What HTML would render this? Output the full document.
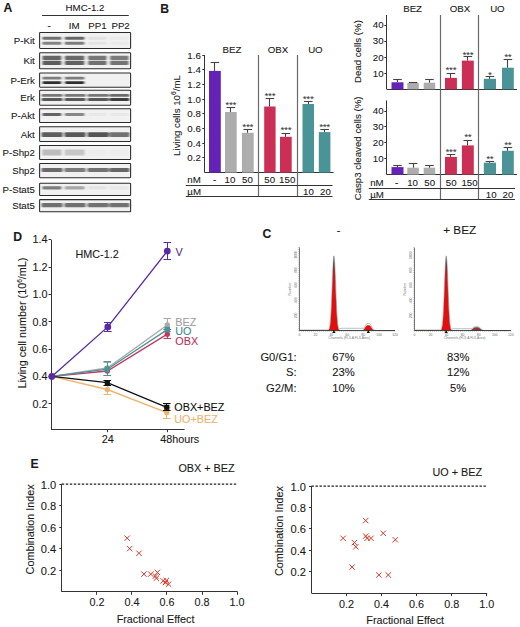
<!DOCTYPE html>
<html><head><meta charset="utf-8"><style>
html,body{margin:0;padding:0;background:#fff;}
body{width:520px;height:627px;overflow:hidden;}
svg{display:block;font-family:"Liberation Sans", sans-serif;}

</style></head><body>
<svg width="520" height="627" viewBox="0 0 520 627">
<defs><linearGradient id="pk" x1="0" y1="0" x2="0" y2="1"><stop offset="0" stop-color="#777"/><stop offset="0.1" stop-color="#553030"/><stop offset="0.2" stop-color="#c01515"/><stop offset="0.3" stop-color="#e01010"/><stop offset="1" stop-color="#e40c0c"/></linearGradient><filter id="blot" x="-5%" y="-20%" width="110%" height="140%"><feGaussianBlur stdDeviation="0.9 0.75"/></filter></defs>
<rect width="520" height="627" fill="#fff"/>
<text x="3.5" y="12.3" font-size="12.2" text-anchor="start" fill="#1a1a1a" stroke="#1a1a1a" stroke-width="0.1" font-weight="bold" >A</text>
<text x="85.0" y="10.9" font-size="9.7" text-anchor="middle" fill="#1a1a1a" stroke="#1a1a1a" stroke-width="0.1" font-weight="normal" >HMC-1.2</text>
<line x1="42.00" y1="15.50" x2="128.80" y2="15.50" stroke="#333" stroke-width="1" />
<text x="49.0" y="29.0" font-size="9.7" text-anchor="middle" fill="#1a1a1a" stroke="#1a1a1a" stroke-width="0.1" font-weight="normal" >-</text>
<text x="74.2" y="29.0" font-size="9.7" text-anchor="middle" fill="#1a1a1a" stroke="#1a1a1a" stroke-width="0.1" font-weight="normal" >IM</text>
<text x="97.5" y="29.0" font-size="9.7" text-anchor="middle" fill="#1a1a1a" stroke="#1a1a1a" stroke-width="0.1" font-weight="normal" >PP1</text>
<text x="120.6" y="29.0" font-size="9.7" text-anchor="middle" fill="#1a1a1a" stroke="#1a1a1a" stroke-width="0.1" font-weight="normal" >PP2</text>
<g filter="url(#blot)">
<rect x="39.60" y="32.40" width="91.00" height="16.00" fill="#f1f1f1" />
<rect x="42.20" y="36.70" width="19.40" height="3.00" fill="#1e1e1e" opacity="0.62" rx="1"/>
<rect x="64.60" y="36.70" width="20.00" height="3.00" fill="#1e1e1e" opacity="0.66" rx="1"/>
<rect x="87.80" y="36.70" width="19.00" height="3.00" fill="#1e1e1e" opacity="0.07" rx="1"/>
<rect x="109.80" y="36.70" width="19.00" height="3.00" fill="#1e1e1e" opacity="0.03" rx="1"/>
<rect x="42.20" y="41.70" width="19.40" height="3.00" fill="#1e1e1e" opacity="0.52" rx="1"/>
<rect x="64.60" y="41.70" width="20.00" height="3.00" fill="#1e1e1e" opacity="0.56" rx="1"/>
<rect x="87.80" y="41.70" width="19.00" height="3.00" fill="#1e1e1e" opacity="0.06" rx="1"/>
<rect x="109.80" y="41.70" width="19.00" height="3.00" fill="#1e1e1e" opacity="0.03" rx="1"/>
<rect x="39.60" y="52.80" width="91.00" height="16.00" fill="#f1f1f1" />
<rect x="42.20" y="55.80" width="19.40" height="4.20" fill="#1e1e1e" opacity="0.66" rx="1"/>
<rect x="64.60" y="55.80" width="20.00" height="4.20" fill="#1e1e1e" opacity="0.64" rx="1"/>
<rect x="87.80" y="55.80" width="19.00" height="4.20" fill="#1e1e1e" opacity="0.58" rx="1"/>
<rect x="109.80" y="55.80" width="19.00" height="4.20" fill="#1e1e1e" opacity="0.56" rx="1"/>
<rect x="42.20" y="60.80" width="19.40" height="4.20" fill="#1e1e1e" opacity="0.7" rx="1"/>
<rect x="64.60" y="60.80" width="20.00" height="4.20" fill="#1e1e1e" opacity="0.68" rx="1"/>
<rect x="87.80" y="60.80" width="19.00" height="4.20" fill="#1e1e1e" opacity="0.62" rx="1"/>
<rect x="109.80" y="60.80" width="19.00" height="4.20" fill="#1e1e1e" opacity="0.6" rx="1"/>
<rect x="39.60" y="73.00" width="91.00" height="14.20" fill="#f1f1f1" />
<rect x="42.20" y="76.80" width="19.40" height="2.80" fill="#1e1e1e" opacity="0.55" rx="1"/>
<rect x="64.60" y="76.80" width="20.00" height="2.80" fill="#1e1e1e" opacity="0.55" rx="1"/>
<rect x="42.20" y="81.30" width="19.40" height="2.60" fill="#1e1e1e" opacity="0.92" rx="1"/>
<rect x="64.60" y="81.30" width="20.00" height="2.60" fill="#1e1e1e" opacity="0.92" rx="1"/>
<rect x="39.60" y="90.20" width="91.00" height="15.00" fill="#f1f1f1" />
<rect x="41.30" y="93.90" width="21.50" height="2.80" fill="#1e1e1e" opacity="0.58" rx="1"/>
<rect x="64.30" y="93.90" width="21.50" height="2.80" fill="#1e1e1e" opacity="0.58" rx="1"/>
<rect x="87.30" y="93.90" width="21.50" height="2.80" fill="#1e1e1e" opacity="0.58" rx="1"/>
<rect x="109.30" y="93.90" width="20.30" height="2.80" fill="#1e1e1e" opacity="0.64" rx="1"/>
<rect x="41.30" y="98.10" width="21.50" height="3.00" fill="#1e1e1e" opacity="0.72" rx="1"/>
<rect x="64.30" y="98.10" width="21.50" height="3.00" fill="#1e1e1e" opacity="0.72" rx="1"/>
<rect x="87.30" y="98.10" width="21.50" height="3.00" fill="#1e1e1e" opacity="0.72" rx="1"/>
<rect x="109.30" y="98.10" width="20.30" height="3.00" fill="#1e1e1e" opacity="0.86" rx="1"/>
<rect x="39.60" y="108.70" width="91.00" height="13.80" fill="#f1f1f1" />
<rect x="42.20" y="113.10" width="19.40" height="3.00" fill="#1e1e1e" opacity="0.68" rx="1"/>
<rect x="64.60" y="113.10" width="20.00" height="3.00" fill="#1e1e1e" opacity="0.5" rx="1"/>
<rect x="87.80" y="113.10" width="19.00" height="3.00" fill="#1e1e1e" opacity="0.04" rx="1"/>
<rect x="109.80" y="113.10" width="19.00" height="3.00" fill="#1e1e1e" opacity="0.04" rx="1"/>
<rect x="39.60" y="126.80" width="91.00" height="14.60" fill="#f1f1f1" />
<rect x="41.30" y="132.30" width="21.50" height="4.80" fill="#1e1e1e" opacity="0.7" rx="1"/>
<rect x="64.30" y="132.30" width="21.50" height="4.80" fill="#1e1e1e" opacity="0.72" rx="1"/>
<rect x="87.30" y="132.30" width="21.50" height="4.80" fill="#1e1e1e" opacity="0.74" rx="1"/>
<rect x="109.30" y="132.30" width="20.30" height="4.80" fill="#1e1e1e" opacity="0.6" rx="1"/>
<rect x="39.60" y="145.50" width="91.00" height="14.00" fill="#f1f1f1" />
<rect x="42.20" y="149.50" width="19.40" height="6.00" fill="#1e1e1e" opacity="0.25" rx="1"/>
<rect x="64.60" y="149.50" width="20.00" height="6.00" fill="#1e1e1e" opacity="0.2" rx="1"/>
<rect x="87.80" y="149.50" width="19.00" height="6.00" fill="#1e1e1e" opacity="0.02" rx="1"/>
<rect x="109.80" y="149.50" width="19.00" height="6.00" fill="#1e1e1e" opacity="0.02" rx="1"/>
<rect x="39.60" y="163.40" width="91.00" height="14.30" fill="#f1f1f1" />
<rect x="41.30" y="168.10" width="21.50" height="3.80" fill="#1e1e1e" opacity="0.64" rx="1"/>
<rect x="64.30" y="168.10" width="21.50" height="3.80" fill="#1e1e1e" opacity="0.56" rx="1"/>
<rect x="87.30" y="168.10" width="21.50" height="3.80" fill="#1e1e1e" opacity="0.6" rx="1"/>
<rect x="109.30" y="168.10" width="20.30" height="3.80" fill="#1e1e1e" opacity="0.66" rx="1"/>
<rect x="39.60" y="183.20" width="91.00" height="12.40" fill="#f1f1f1" />
<rect x="42.20" y="186.20" width="19.40" height="3.40" fill="#1e1e1e" opacity="0.55" rx="1"/>
<rect x="64.60" y="186.20" width="20.00" height="3.40" fill="#1e1e1e" opacity="0.35" rx="1"/>
<rect x="87.80" y="186.20" width="19.00" height="3.40" fill="#1e1e1e" opacity="0.06" rx="1"/>
<rect x="109.80" y="186.20" width="19.00" height="3.40" fill="#1e1e1e" opacity="0.04" rx="1"/>
<rect x="39.60" y="199.60" width="91.00" height="12.20" fill="#f1f1f1" />
<rect x="41.30" y="203.10" width="21.50" height="4.20" fill="#1e1e1e" opacity="0.62" rx="1"/>
<rect x="64.30" y="203.10" width="21.50" height="4.20" fill="#1e1e1e" opacity="0.62" rx="1"/>
<rect x="87.30" y="203.10" width="21.50" height="4.20" fill="#1e1e1e" opacity="0.6" rx="1"/>
<rect x="109.30" y="203.10" width="20.30" height="4.20" fill="#1e1e1e" opacity="0.6" rx="1"/>
</g>
<rect x="39.60" y="32.40" width="91.00" height="16.00" fill="none" stroke="#2a2a2a" stroke-width="1.05" rx="0.6"/>
<text x="34.8" y="43.9" font-size="9.7" text-anchor="end" fill="#1a1a1a" stroke="#1a1a1a" stroke-width="0.1" font-weight="normal" >P-Kit</text>
<rect x="39.60" y="52.80" width="91.00" height="16.00" fill="none" stroke="#2a2a2a" stroke-width="1.05" rx="0.6"/>
<text x="34.8" y="64.3" font-size="9.7" text-anchor="end" fill="#1a1a1a" stroke="#1a1a1a" stroke-width="0.1" font-weight="normal" >Kit</text>
<rect x="39.60" y="73.00" width="91.00" height="14.20" fill="none" stroke="#2a2a2a" stroke-width="1.05" rx="0.6"/>
<text x="34.8" y="83.6" font-size="9.7" text-anchor="end" fill="#1a1a1a" stroke="#1a1a1a" stroke-width="0.1" font-weight="normal" >P-Erk</text>
<rect x="39.60" y="90.20" width="91.00" height="15.00" fill="none" stroke="#2a2a2a" stroke-width="1.05" rx="0.6"/>
<text x="34.8" y="101.2" font-size="9.7" text-anchor="end" fill="#1a1a1a" stroke="#1a1a1a" stroke-width="0.1" font-weight="normal" >Erk</text>
<rect x="39.60" y="108.70" width="91.00" height="13.80" fill="none" stroke="#2a2a2a" stroke-width="1.05" rx="0.6"/>
<text x="34.8" y="119.1" font-size="9.7" text-anchor="end" fill="#1a1a1a" stroke="#1a1a1a" stroke-width="0.1" font-weight="normal" >P-Akt</text>
<rect x="39.60" y="126.80" width="91.00" height="14.60" fill="none" stroke="#2a2a2a" stroke-width="1.05" rx="0.6"/>
<text x="34.8" y="137.6" font-size="9.7" text-anchor="end" fill="#1a1a1a" stroke="#1a1a1a" stroke-width="0.1" font-weight="normal" >Akt</text>
<rect x="39.60" y="145.50" width="91.00" height="14.00" fill="none" stroke="#2a2a2a" stroke-width="1.05" rx="0.6"/>
<text x="34.8" y="156.0" font-size="9.7" text-anchor="end" fill="#1a1a1a" stroke="#1a1a1a" stroke-width="0.1" font-weight="normal" >P-Shp2</text>
<rect x="39.60" y="163.40" width="91.00" height="14.30" fill="none" stroke="#2a2a2a" stroke-width="1.05" rx="0.6"/>
<text x="34.8" y="174.1" font-size="9.7" text-anchor="end" fill="#1a1a1a" stroke="#1a1a1a" stroke-width="0.1" font-weight="normal" >Shp2</text>
<rect x="39.60" y="183.20" width="91.00" height="12.40" fill="none" stroke="#2a2a2a" stroke-width="1.05" rx="0.6"/>
<text x="34.8" y="192.9" font-size="9.7" text-anchor="end" fill="#1a1a1a" stroke="#1a1a1a" stroke-width="0.1" font-weight="normal" >P-Stat5</text>
<rect x="39.60" y="199.60" width="91.00" height="12.20" fill="none" stroke="#2a2a2a" stroke-width="1.05" rx="0.6"/>
<text x="34.8" y="209.2" font-size="9.7" text-anchor="end" fill="#1a1a1a" stroke="#1a1a1a" stroke-width="0.1" font-weight="normal" >Stat5</text>
<text x="160.3" y="13.1" font-size="12.2" text-anchor="start" fill="#1a1a1a" stroke="#1a1a1a" stroke-width="0.1" font-weight="bold" >B</text>
<line x1="204.50" y1="55.00" x2="204.50" y2="172.60" stroke="#333" stroke-width="1" />
<line x1="204.60" y1="172.50" x2="333.60" y2="172.50" stroke="#333" stroke-width="1" />
<line x1="202.30" y1="157.50" x2="204.60" y2="157.50" stroke="#333" stroke-width="1" />
<text x="200.8" y="161.2" font-size="9.7" text-anchor="end" fill="#1a1a1a" stroke="#1a1a1a" stroke-width="0.1" font-weight="normal" >0.2</text>
<line x1="202.30" y1="143.50" x2="204.60" y2="143.50" stroke="#333" stroke-width="1" />
<text x="200.8" y="146.6" font-size="9.7" text-anchor="end" fill="#1a1a1a" stroke="#1a1a1a" stroke-width="0.1" font-weight="normal" >0.4</text>
<line x1="202.30" y1="128.50" x2="204.60" y2="128.50" stroke="#333" stroke-width="1" />
<text x="200.8" y="131.9" font-size="9.7" text-anchor="end" fill="#1a1a1a" stroke="#1a1a1a" stroke-width="0.1" font-weight="normal" >0.6</text>
<line x1="202.30" y1="113.50" x2="204.60" y2="113.50" stroke="#333" stroke-width="1" />
<text x="200.8" y="117.3" font-size="9.7" text-anchor="end" fill="#1a1a1a" stroke="#1a1a1a" stroke-width="0.1" font-weight="normal" >0.8</text>
<line x1="202.30" y1="99.50" x2="204.60" y2="99.50" stroke="#333" stroke-width="1" />
<text x="200.8" y="102.6" font-size="9.7" text-anchor="end" fill="#1a1a1a" stroke="#1a1a1a" stroke-width="0.1" font-weight="normal" >1.0</text>
<line x1="202.30" y1="84.50" x2="204.60" y2="84.50" stroke="#333" stroke-width="1" />
<text x="200.8" y="87.9" font-size="9.7" text-anchor="end" fill="#1a1a1a" stroke="#1a1a1a" stroke-width="0.1" font-weight="normal" >1.2</text>
<line x1="202.30" y1="69.50" x2="204.60" y2="69.50" stroke="#333" stroke-width="1" />
<text x="200.8" y="73.3" font-size="9.7" text-anchor="end" fill="#1a1a1a" stroke="#1a1a1a" stroke-width="0.1" font-weight="normal" >1.4</text>
<line x1="202.30" y1="55.50" x2="204.60" y2="55.50" stroke="#333" stroke-width="1" />
<text x="200.8" y="58.6" font-size="9.7" text-anchor="end" fill="#1a1a1a" stroke="#1a1a1a" stroke-width="0.1" font-weight="normal" >1.6</text>
<text transform="translate(179.6,115.5) rotate(-90)" font-size="9.7" text-anchor="middle" fill="#1c1c1c" stroke="#1c1c1c" stroke-width="0.1">Living cells 10<tspan font-size="6.8" dy="-3.5">6</tspan><tspan dy="3.5">/mL</tspan></text>
<rect x="209.00" y="70.90" width="11.80" height="101.70" fill="#6423b4" />
<line x1="214.50" y1="62.80" x2="214.50" y2="70.90" stroke="#444" stroke-width="1.1" />
<line x1="210.60" y1="62.50" x2="219.20" y2="62.50" stroke="#444" stroke-width="1.1" />
<rect x="225.00" y="112.00" width="11.70" height="60.60" fill="#adadad" />
<line x1="230.50" y1="107.20" x2="230.50" y2="112.00" stroke="#444" stroke-width="1.1" />
<line x1="226.55" y1="107.50" x2="235.15" y2="107.50" stroke="#444" stroke-width="1.1" />
<text x="231.0" y="108.2" font-size="9" text-anchor="middle" fill="#3a3a3a" stroke="#3a3a3a" stroke-width="0.1" font-weight="normal" letter-spacing="0.1">***</text>
<rect x="241.90" y="132.80" width="11.80" height="39.80" fill="#adadad" />
<line x1="247.50" y1="129.20" x2="247.50" y2="132.80" stroke="#444" stroke-width="1.1" />
<line x1="243.50" y1="129.50" x2="252.10" y2="129.50" stroke="#444" stroke-width="1.1" />
<text x="248.0" y="129.6" font-size="9" text-anchor="middle" fill="#3a3a3a" stroke="#3a3a3a" stroke-width="0.1" font-weight="normal" letter-spacing="0.1">***</text>
<rect x="264.20" y="106.50" width="11.40" height="66.10" fill="#cc2f55" />
<line x1="269.50" y1="98.70" x2="269.50" y2="106.50" stroke="#444" stroke-width="1.1" />
<line x1="265.60" y1="98.50" x2="274.20" y2="98.50" stroke="#444" stroke-width="1.1" />
<text x="270.1" y="99.1" font-size="9" text-anchor="middle" fill="#3a3a3a" stroke="#3a3a3a" stroke-width="0.1" font-weight="normal" letter-spacing="0.1">***</text>
<rect x="280.00" y="136.80" width="11.70" height="35.80" fill="#cc2f55" />
<line x1="285.50" y1="133.00" x2="285.50" y2="136.80" stroke="#444" stroke-width="1.1" />
<line x1="281.55" y1="133.50" x2="290.15" y2="133.50" stroke="#444" stroke-width="1.1" />
<text x="286.1" y="132.9" font-size="9" text-anchor="middle" fill="#3a3a3a" stroke="#3a3a3a" stroke-width="0.1" font-weight="normal" letter-spacing="0.1">***</text>
<rect x="302.50" y="104.00" width="11.50" height="68.60" fill="#4a9497" />
<line x1="308.50" y1="101.90" x2="308.50" y2="104.00" stroke="#444" stroke-width="1.1" />
<line x1="303.95" y1="101.50" x2="312.55" y2="101.50" stroke="#444" stroke-width="1.1" />
<text x="308.4" y="102.3" font-size="9" text-anchor="middle" fill="#3a3a3a" stroke="#3a3a3a" stroke-width="0.1" font-weight="normal" letter-spacing="0.1">***</text>
<rect x="318.80" y="132.10" width="11.60" height="40.50" fill="#4a9497" />
<line x1="324.50" y1="129.40" x2="324.50" y2="132.10" stroke="#444" stroke-width="1.1" />
<line x1="320.30" y1="129.50" x2="328.90" y2="129.50" stroke="#444" stroke-width="1.1" />
<text x="324.8" y="129.6" font-size="9" text-anchor="middle" fill="#3a3a3a" stroke="#3a3a3a" stroke-width="0.1" font-weight="normal" letter-spacing="0.1">***</text>
<line x1="258.50" y1="55.00" x2="258.50" y2="196.80" stroke="#6a6a6a" stroke-width="1.2" />
<line x1="297.50" y1="55.00" x2="297.50" y2="196.80" stroke="#6a6a6a" stroke-width="1.2" />
<text x="232.0" y="52.9" font-size="9.7" text-anchor="middle" fill="#1a1a1a" stroke="#1a1a1a" stroke-width="0.1" font-weight="normal" >BEZ</text>
<text x="277.9" y="52.9" font-size="9.7" text-anchor="middle" fill="#1a1a1a" stroke="#1a1a1a" stroke-width="0.1" font-weight="normal" >OBX</text>
<text x="315.4" y="52.9" font-size="9.7" text-anchor="middle" fill="#1a1a1a" stroke="#1a1a1a" stroke-width="0.1" font-weight="normal" >UO</text>
<text x="187.3" y="183.4" font-size="9.7" text-anchor="start" fill="#1a1a1a" stroke="#1a1a1a" stroke-width="0.1" font-weight="normal" >nM</text>
<text x="214.6" y="183.4" font-size="9.7" text-anchor="middle" fill="#1a1a1a" stroke="#1a1a1a" stroke-width="0.1" font-weight="normal" >-</text>
<text x="230.0" y="183.4" font-size="9.7" text-anchor="middle" fill="#1a1a1a" stroke="#1a1a1a" stroke-width="0.1" font-weight="normal" >10</text>
<text x="247.5" y="183.4" font-size="9.7" text-anchor="middle" fill="#1a1a1a" stroke="#1a1a1a" stroke-width="0.1" font-weight="normal" >50</text>
<text x="269.7" y="183.4" font-size="9.7" text-anchor="middle" fill="#1a1a1a" stroke="#1a1a1a" stroke-width="0.1" font-weight="normal" >50</text>
<text x="287.2" y="183.4" font-size="9.7" text-anchor="middle" fill="#1a1a1a" stroke="#1a1a1a" stroke-width="0.1" font-weight="normal" >150</text>
<line x1="185.80" y1="185.50" x2="332.50" y2="185.50" stroke="#333" stroke-width="1" />
<text x="187.3" y="195.3" font-size="9.7" text-anchor="start" fill="#1a1a1a" stroke="#1a1a1a" stroke-width="0.1" font-weight="normal" >&#181;M</text>
<text x="308.5" y="195.3" font-size="9.7" text-anchor="middle" fill="#1a1a1a" stroke="#1a1a1a" stroke-width="0.1" font-weight="normal" >10</text>
<text x="325.4" y="195.3" font-size="9.7" text-anchor="middle" fill="#1a1a1a" stroke="#1a1a1a" stroke-width="0.1" font-weight="normal" >20</text>
<line x1="185.80" y1="196.50" x2="332.50" y2="196.50" stroke="#333" stroke-width="1" />
<line x1="386.50" y1="15.00" x2="386.50" y2="89.30" stroke="#333" stroke-width="1" />
<line x1="386.80" y1="89.50" x2="517.00" y2="89.50" stroke="#333" stroke-width="1" />
<line x1="384.30" y1="73.50" x2="386.80" y2="73.50" stroke="#333" stroke-width="1" />
<text x="383.6" y="76.5" font-size="9.7" text-anchor="end" fill="#1a1a1a" stroke="#1a1a1a" stroke-width="0.1" font-weight="normal" >10</text>
<line x1="384.30" y1="57.50" x2="386.80" y2="57.50" stroke="#333" stroke-width="1" />
<text x="383.6" y="60.5" font-size="9.7" text-anchor="end" fill="#1a1a1a" stroke="#1a1a1a" stroke-width="0.1" font-weight="normal" >20</text>
<line x1="384.30" y1="41.50" x2="386.80" y2="41.50" stroke="#333" stroke-width="1" />
<text x="383.6" y="44.4" font-size="9.7" text-anchor="end" fill="#1a1a1a" stroke="#1a1a1a" stroke-width="0.1" font-weight="normal" >30</text>
<line x1="384.30" y1="25.50" x2="386.80" y2="25.50" stroke="#333" stroke-width="1" />
<text x="383.6" y="28.4" font-size="9.7" text-anchor="end" fill="#1a1a1a" stroke="#1a1a1a" stroke-width="0.1" font-weight="normal" >40</text>
<line x1="386.50" y1="100.40" x2="386.50" y2="174.60" stroke="#333" stroke-width="1" />
<line x1="386.80" y1="174.50" x2="517.00" y2="174.50" stroke="#333" stroke-width="1" />
<line x1="384.30" y1="158.50" x2="386.80" y2="158.50" stroke="#333" stroke-width="1" />
<text x="383.6" y="162.0" font-size="9.7" text-anchor="end" fill="#1a1a1a" stroke="#1a1a1a" stroke-width="0.1" font-weight="normal" >10</text>
<line x1="384.30" y1="142.50" x2="386.80" y2="142.50" stroke="#333" stroke-width="1" />
<text x="383.6" y="146.1" font-size="9.7" text-anchor="end" fill="#1a1a1a" stroke="#1a1a1a" stroke-width="0.1" font-weight="normal" >20</text>
<line x1="384.30" y1="126.50" x2="386.80" y2="126.50" stroke="#333" stroke-width="1" />
<text x="383.6" y="130.2" font-size="9.7" text-anchor="end" fill="#1a1a1a" stroke="#1a1a1a" stroke-width="0.1" font-weight="normal" >30</text>
<line x1="384.30" y1="111.50" x2="386.80" y2="111.50" stroke="#333" stroke-width="1" />
<text x="383.6" y="114.3" font-size="9.7" text-anchor="end" fill="#1a1a1a" stroke="#1a1a1a" stroke-width="0.1" font-weight="normal" >40</text>
<rect x="391.50" y="82.30" width="12.00" height="7.00" fill="#6423b4" />
<line x1="397.50" y1="79.20" x2="397.50" y2="82.30" stroke="#444" stroke-width="1.1" />
<line x1="393.20" y1="79.50" x2="401.80" y2="79.50" stroke="#444" stroke-width="1.1" />
<rect x="407.30" y="83.00" width="11.50" height="6.30" fill="#adadad" />
<line x1="413.50" y1="82.30" x2="413.50" y2="83.00" stroke="#444" stroke-width="1.1" />
<line x1="408.75" y1="82.50" x2="417.35" y2="82.50" stroke="#444" stroke-width="1.1" />
<rect x="423.70" y="82.70" width="11.50" height="6.60" fill="#adadad" />
<line x1="429.50" y1="79.40" x2="429.50" y2="82.70" stroke="#444" stroke-width="1.1" />
<line x1="425.15" y1="79.50" x2="433.75" y2="79.50" stroke="#444" stroke-width="1.1" />
<rect x="445.00" y="77.90" width="11.90" height="11.40" fill="#cc2f55" />
<line x1="450.50" y1="73.00" x2="450.50" y2="77.90" stroke="#444" stroke-width="1.1" />
<line x1="446.65" y1="73.50" x2="455.25" y2="73.50" stroke="#444" stroke-width="1.1" />
<text x="451.1" y="72.9" font-size="9" text-anchor="middle" fill="#3a3a3a" stroke="#3a3a3a" stroke-width="0.1" font-weight="normal" letter-spacing="0.1">***</text>
<rect x="461.90" y="60.60" width="11.90" height="28.70" fill="#cc2f55" />
<line x1="467.50" y1="56.70" x2="467.50" y2="60.60" stroke="#444" stroke-width="1.1" />
<line x1="463.55" y1="56.50" x2="472.15" y2="56.50" stroke="#444" stroke-width="1.1" />
<text x="468.1" y="57.5" font-size="9" text-anchor="middle" fill="#3a3a3a" stroke="#3a3a3a" stroke-width="0.1" font-weight="normal" letter-spacing="0.1">***</text>
<rect x="483.80" y="78.80" width="12.20" height="10.50" fill="#4a9497" />
<line x1="489.50" y1="76.90" x2="489.50" y2="78.80" stroke="#444" stroke-width="1.1" />
<line x1="485.60" y1="76.50" x2="494.20" y2="76.50" stroke="#444" stroke-width="1.1" />
<text x="490.1" y="77.6" font-size="9" text-anchor="middle" fill="#3a3a3a" stroke="#3a3a3a" stroke-width="0.1" font-weight="normal" letter-spacing="0.1">*</text>
<rect x="502.00" y="67.70" width="11.80" height="21.60" fill="#4a9497" />
<line x1="507.50" y1="59.00" x2="507.50" y2="67.70" stroke="#444" stroke-width="1.1" />
<line x1="503.60" y1="59.50" x2="512.20" y2="59.50" stroke="#444" stroke-width="1.1" />
<text x="508.1" y="60.0" font-size="9" text-anchor="middle" fill="#3a3a3a" stroke="#3a3a3a" stroke-width="0.1" font-weight="normal" letter-spacing="0.1">**</text>
<rect x="391.50" y="167.10" width="12.00" height="7.50" fill="#6423b4" />
<line x1="397.50" y1="165.20" x2="397.50" y2="167.10" stroke="#444" stroke-width="1.1" />
<line x1="393.20" y1="165.50" x2="401.80" y2="165.50" stroke="#444" stroke-width="1.1" />
<rect x="407.30" y="167.70" width="11.50" height="6.90" fill="#adadad" />
<line x1="413.50" y1="163.30" x2="413.50" y2="167.70" stroke="#444" stroke-width="1.1" />
<line x1="408.75" y1="163.50" x2="417.35" y2="163.50" stroke="#444" stroke-width="1.1" />
<rect x="423.70" y="167.70" width="11.50" height="6.90" fill="#adadad" />
<line x1="429.50" y1="165.60" x2="429.50" y2="167.70" stroke="#444" stroke-width="1.1" />
<line x1="425.15" y1="165.50" x2="433.75" y2="165.50" stroke="#444" stroke-width="1.1" />
<rect x="445.00" y="156.90" width="11.90" height="17.70" fill="#cc2f55" />
<line x1="450.50" y1="154.20" x2="450.50" y2="156.90" stroke="#444" stroke-width="1.1" />
<line x1="446.65" y1="154.50" x2="455.25" y2="154.50" stroke="#444" stroke-width="1.1" />
<text x="451.1" y="155.4" font-size="9" text-anchor="middle" fill="#3a3a3a" stroke="#3a3a3a" stroke-width="0.1" font-weight="normal" letter-spacing="0.1">***</text>
<rect x="461.90" y="145.40" width="11.90" height="29.20" fill="#cc2f55" />
<line x1="467.50" y1="140.80" x2="467.50" y2="145.40" stroke="#444" stroke-width="1.1" />
<line x1="463.55" y1="140.50" x2="472.15" y2="140.50" stroke="#444" stroke-width="1.1" />
<text x="468.1" y="140.4" font-size="9" text-anchor="middle" fill="#3a3a3a" stroke="#3a3a3a" stroke-width="0.1" font-weight="normal" letter-spacing="0.1">**</text>
<rect x="483.80" y="162.70" width="12.20" height="11.90" fill="#4a9497" />
<line x1="489.50" y1="161.30" x2="489.50" y2="162.70" stroke="#444" stroke-width="1.1" />
<line x1="485.60" y1="161.50" x2="494.20" y2="161.50" stroke="#444" stroke-width="1.1" />
<text x="490.1" y="162.1" font-size="9" text-anchor="middle" fill="#3a3a3a" stroke="#3a3a3a" stroke-width="0.1" font-weight="normal" letter-spacing="0.1">**</text>
<rect x="502.00" y="150.80" width="11.80" height="23.80" fill="#4a9497" />
<line x1="507.50" y1="147.00" x2="507.50" y2="150.80" stroke="#444" stroke-width="1.1" />
<line x1="503.60" y1="147.50" x2="512.20" y2="147.50" stroke="#444" stroke-width="1.1" />
<text x="508.1" y="148.1" font-size="9" text-anchor="middle" fill="#3a3a3a" stroke="#3a3a3a" stroke-width="0.1" font-weight="normal" letter-spacing="0.1">**</text>
<line x1="440.50" y1="15.00" x2="440.50" y2="199.80" stroke="#6a6a6a" stroke-width="1.2" />
<line x1="478.50" y1="15.00" x2="478.50" y2="199.80" stroke="#6a6a6a" stroke-width="1.2" />
<text x="412.6" y="11.5" font-size="9.7" text-anchor="middle" fill="#1a1a1a" stroke="#1a1a1a" stroke-width="0.1" font-weight="normal" >BEZ</text>
<text x="460.0" y="11.5" font-size="9.7" text-anchor="middle" fill="#1a1a1a" stroke="#1a1a1a" stroke-width="0.1" font-weight="normal" >OBX</text>
<text x="497.4" y="11.5" font-size="9.7" text-anchor="middle" fill="#1a1a1a" stroke="#1a1a1a" stroke-width="0.1" font-weight="normal" >UO</text>
<text transform="translate(361.4,51.6) rotate(-90)" font-size="9.7" text-anchor="middle" fill="#1c1c1c" stroke="#1c1c1c" stroke-width="0.1">Dead cells (%)</text>
<text transform="translate(361.4,148.4) rotate(-90)" font-size="9.7" text-anchor="middle" fill="#1c1c1c" stroke="#1c1c1c" stroke-width="0.1">Casp3 cleaved cells (%)</text>
<text x="370.2" y="185.9" font-size="9.7" text-anchor="start" fill="#1a1a1a" stroke="#1a1a1a" stroke-width="0.1" font-weight="normal" >nM</text>
<text x="396.7" y="185.9" font-size="9.7" text-anchor="middle" fill="#1a1a1a" stroke="#1a1a1a" stroke-width="0.1" font-weight="normal" >-</text>
<text x="412.6" y="185.9" font-size="9.7" text-anchor="middle" fill="#1a1a1a" stroke="#1a1a1a" stroke-width="0.1" font-weight="normal" >10</text>
<text x="429.7" y="185.9" font-size="9.7" text-anchor="middle" fill="#1a1a1a" stroke="#1a1a1a" stroke-width="0.1" font-weight="normal" >50</text>
<text x="451.2" y="185.9" font-size="9.7" text-anchor="middle" fill="#1a1a1a" stroke="#1a1a1a" stroke-width="0.1" font-weight="normal" >50</text>
<text x="469.5" y="185.9" font-size="9.7" text-anchor="middle" fill="#1a1a1a" stroke="#1a1a1a" stroke-width="0.1" font-weight="normal" >150</text>
<line x1="368.80" y1="188.50" x2="515.00" y2="188.50" stroke="#333" stroke-width="1" />
<text x="370.2" y="198.0" font-size="9.7" text-anchor="start" fill="#1a1a1a" stroke="#1a1a1a" stroke-width="0.1" font-weight="normal" >&#181;M</text>
<text x="491.2" y="198.0" font-size="9.7" text-anchor="middle" fill="#1a1a1a" stroke="#1a1a1a" stroke-width="0.1" font-weight="normal" >10</text>
<text x="508.0" y="198.0" font-size="9.7" text-anchor="middle" fill="#1a1a1a" stroke="#1a1a1a" stroke-width="0.1" font-weight="normal" >20</text>
<line x1="368.80" y1="199.50" x2="515.00" y2="199.50" stroke="#333" stroke-width="1" />
<text x="13.3" y="240.5" font-size="12.2" text-anchor="start" fill="#1a1a1a" stroke="#1a1a1a" stroke-width="0.1" font-weight="bold" >D</text>
<line x1="51.50" y1="239.70" x2="51.50" y2="429.20" stroke="#333" stroke-width="1" />
<line x1="51.00" y1="429.50" x2="184.60" y2="429.50" stroke="#333" stroke-width="1" />
<line x1="48.50" y1="403.50" x2="51.00" y2="403.50" stroke="#333" stroke-width="1" />
<text x="47.6" y="407.5" font-size="10.8" text-anchor="end" fill="#1a1a1a" stroke="#1a1a1a" stroke-width="0.1" font-weight="normal" >0.2</text>
<line x1="48.50" y1="376.50" x2="51.00" y2="376.50" stroke="#333" stroke-width="1" />
<text x="47.6" y="380.2" font-size="10.8" text-anchor="end" fill="#1a1a1a" stroke="#1a1a1a" stroke-width="0.1" font-weight="normal" >0.4</text>
<line x1="48.50" y1="349.50" x2="51.00" y2="349.50" stroke="#333" stroke-width="1" />
<text x="47.6" y="352.8" font-size="10.8" text-anchor="end" fill="#1a1a1a" stroke="#1a1a1a" stroke-width="0.1" font-weight="normal" >0.6</text>
<line x1="48.50" y1="321.50" x2="51.00" y2="321.50" stroke="#333" stroke-width="1" />
<text x="47.6" y="325.5" font-size="10.8" text-anchor="end" fill="#1a1a1a" stroke="#1a1a1a" stroke-width="0.1" font-weight="normal" >0.8</text>
<line x1="48.50" y1="294.50" x2="51.00" y2="294.50" stroke="#333" stroke-width="1" />
<text x="47.6" y="298.1" font-size="10.8" text-anchor="end" fill="#1a1a1a" stroke="#1a1a1a" stroke-width="0.1" font-weight="normal" >1.0</text>
<line x1="48.50" y1="267.50" x2="51.00" y2="267.50" stroke="#333" stroke-width="1" />
<text x="47.6" y="270.8" font-size="10.8" text-anchor="end" fill="#1a1a1a" stroke="#1a1a1a" stroke-width="0.1" font-weight="normal" >1.2</text>
<line x1="48.50" y1="239.50" x2="51.00" y2="239.50" stroke="#333" stroke-width="1" />
<text x="47.6" y="243.4" font-size="10.8" text-anchor="end" fill="#1a1a1a" stroke="#1a1a1a" stroke-width="0.1" font-weight="normal" >1.4</text>
<line x1="107.50" y1="429.20" x2="107.50" y2="432.20" stroke="#333" stroke-width="1" />
<line x1="167.50" y1="429.20" x2="167.50" y2="432.20" stroke="#333" stroke-width="1" />
<text x="107.8" y="443.2" font-size="10.8" text-anchor="middle" fill="#1a1a1a" stroke="#1a1a1a" stroke-width="0.1" font-weight="normal" >24</text>
<text x="160.2" y="443.2" font-size="10.8" text-anchor="start" fill="#1a1a1a" stroke="#1a1a1a" stroke-width="0.1" font-weight="normal" >48hours</text>
<text x="75.5" y="258.2" font-size="10.8" text-anchor="start" fill="#1a1a1a" stroke="#1a1a1a" stroke-width="0.1" font-weight="normal" >HMC-1.2</text>
<text transform="translate(25.8,323) rotate(-90)" font-size="10.8" text-anchor="middle" fill="#1c1c1c" stroke="#1c1c1c" stroke-width="0.1">Living cell number (10<tspan font-size="6.5" dy="-3.8">6</tspan><tspan dy="3.8">/mL)</tspan></text>
<polyline points="51.8,376.4 107.3,368.0 167.3,325.0" fill="none" stroke="#a9a9a9" stroke-width="1.35"/>
<circle cx="51.8" cy="376.4" r="2.7" fill="#a9a9a9"/>
<line x1="107.50" y1="362.00" x2="107.50" y2="375.00" stroke="#a9a9a9" stroke-width="1" />
<line x1="103.50" y1="362.50" x2="111.10" y2="362.50" stroke="#a9a9a9" stroke-width="1" />
<line x1="103.50" y1="375.50" x2="111.10" y2="375.50" stroke="#a9a9a9" stroke-width="1" />
<circle cx="107.3" cy="368.0" r="2.7" fill="#a9a9a9"/>
<line x1="167.50" y1="318.80" x2="167.50" y2="331.00" stroke="#a9a9a9" stroke-width="1" />
<line x1="163.50" y1="318.50" x2="171.10" y2="318.50" stroke="#a9a9a9" stroke-width="1" />
<line x1="163.50" y1="331.50" x2="171.10" y2="331.50" stroke="#a9a9a9" stroke-width="1" />
<circle cx="167.3" cy="325.0" r="2.7" fill="#a9a9a9"/>
<polyline points="51.8,376.4 107.3,371.0 167.3,334.2" fill="none" stroke="#c23a62" stroke-width="1.35"/>
<circle cx="51.8" cy="376.4" r="2.7" fill="#c23a62"/>
<circle cx="107.3" cy="371.0" r="2.7" fill="#c23a62"/>
<line x1="167.50" y1="329.00" x2="167.50" y2="338.80" stroke="#c23a62" stroke-width="1" />
<line x1="163.50" y1="329.50" x2="171.10" y2="329.50" stroke="#c23a62" stroke-width="1" />
<line x1="163.50" y1="338.50" x2="171.10" y2="338.50" stroke="#c23a62" stroke-width="1" />
<circle cx="167.3" cy="334.2" r="2.7" fill="#c23a62"/>
<polyline points="51.8,376.4 107.3,369.2 167.3,329.6" fill="none" stroke="#4a9497" stroke-width="1.35"/>
<circle cx="51.8" cy="376.4" r="2.7" fill="#4a9497"/>
<line x1="107.50" y1="361.80" x2="107.50" y2="375.00" stroke="#4a9497" stroke-width="1" />
<line x1="103.50" y1="361.50" x2="111.10" y2="361.50" stroke="#4a9497" stroke-width="1" />
<line x1="103.50" y1="375.50" x2="111.10" y2="375.50" stroke="#4a9497" stroke-width="1" />
<rect x="104.50" y="366.40" width="5.60" height="5.60" fill="#4a9497" />
<rect x="164.50" y="326.80" width="5.60" height="5.60" fill="#4a9497" />
<polyline points="51.8,376.4 107.3,389.5 166.8,412.6" fill="none" stroke="#eeb46e" stroke-width="1.35"/>
<circle cx="51.8" cy="376.4" r="2.7" fill="#eeb46e"/>
<line x1="107.50" y1="385.40" x2="107.50" y2="394.60" stroke="#eeb46e" stroke-width="1" />
<line x1="103.50" y1="385.50" x2="111.10" y2="385.50" stroke="#eeb46e" stroke-width="1" />
<line x1="103.50" y1="394.50" x2="111.10" y2="394.50" stroke="#eeb46e" stroke-width="1" />
<circle cx="107.3" cy="389.5" r="2.7" fill="#eeb46e"/>
<line x1="166.50" y1="407.00" x2="166.50" y2="418.00" stroke="#eeb46e" stroke-width="1" />
<line x1="163.00" y1="407.50" x2="170.60" y2="407.50" stroke="#eeb46e" stroke-width="1" />
<line x1="163.00" y1="418.50" x2="170.60" y2="418.50" stroke="#eeb46e" stroke-width="1" />
<circle cx="166.8" cy="412.6" r="2.7" fill="#eeb46e"/>
<polyline points="51.8,376.4 107.3,382.6 166.8,407.3" fill="none" stroke="#111111" stroke-width="1.35"/>
<circle cx="51.8" cy="376.4" r="2.7" fill="#111111"/>
<line x1="107.50" y1="380.00" x2="107.50" y2="385.00" stroke="#111111" stroke-width="1" />
<line x1="103.50" y1="380.50" x2="111.10" y2="380.50" stroke="#111111" stroke-width="1" />
<line x1="103.50" y1="385.50" x2="111.10" y2="385.50" stroke="#111111" stroke-width="1" />
<rect x="104.70" y="380.00" width="5.20" height="5.20" fill="#111111" />
<line x1="166.50" y1="403.80" x2="166.50" y2="410.00" stroke="#111111" stroke-width="1" />
<line x1="163.00" y1="403.50" x2="170.60" y2="403.50" stroke="#111111" stroke-width="1" />
<line x1="163.00" y1="410.50" x2="170.60" y2="410.50" stroke="#111111" stroke-width="1" />
<rect x="164.20" y="404.70" width="5.20" height="5.20" fill="#111111" />
<polyline points="51.8,376.4 107.8,326.9 167.3,251.1" fill="none" stroke="#5a2aa2" stroke-width="1.35"/>
<circle cx="51.8" cy="376.4" r="3.4" fill="#5a2aa2"/>
<line x1="107.50" y1="322.00" x2="107.50" y2="331.50" stroke="#5a2aa2" stroke-width="1" />
<line x1="104.00" y1="322.50" x2="111.60" y2="322.50" stroke="#5a2aa2" stroke-width="1" />
<line x1="104.00" y1="331.50" x2="111.60" y2="331.50" stroke="#5a2aa2" stroke-width="1" />
<circle cx="107.8" cy="326.9" r="3.4" fill="#5a2aa2"/>
<line x1="167.50" y1="242.60" x2="167.50" y2="259.20" stroke="#5a2aa2" stroke-width="1" />
<line x1="163.50" y1="242.50" x2="171.10" y2="242.50" stroke="#5a2aa2" stroke-width="1" />
<line x1="163.50" y1="259.50" x2="171.10" y2="259.50" stroke="#5a2aa2" stroke-width="1" />
<circle cx="167.3" cy="251.1" r="3.4" fill="#5a2aa2"/>
<text x="175.4" y="255.6" font-size="10.8" text-anchor="start" fill="#553090" stroke="#553090" stroke-width="0.1" font-weight="normal" >V</text>
<text x="175.3" y="325.9" font-size="10.8" text-anchor="start" fill="#a0a0a0" stroke="#a0a0a0" stroke-width="0.1" font-weight="normal" >BEZ</text>
<text x="175.3" y="335.3" font-size="10.8" text-anchor="start" fill="#3f8a90" stroke="#3f8a90" stroke-width="0.1" font-weight="normal" >UO</text>
<text x="175.3" y="345.2" font-size="10.8" text-anchor="start" fill="#b8355c" stroke="#b8355c" stroke-width="0.1" font-weight="normal" >OBX</text>
<text x="174.3" y="410.9" font-size="10.8" text-anchor="start" fill="#111" stroke="#111" stroke-width="0.1" font-weight="normal" >OBX+BEZ</text>
<text x="174.3" y="422.7" font-size="10.8" text-anchor="start" fill="#eeb46e" stroke="#eeb46e" stroke-width="0.1" font-weight="normal" >UO+BEZ</text>
<text x="262.6" y="238.3" font-size="12.2" text-anchor="start" fill="#1a1a1a" stroke="#1a1a1a" stroke-width="0.1" font-weight="bold" >C</text>
<text x="338.6" y="234.0" font-size="11" text-anchor="middle" fill="#1a1a1a" stroke="#1a1a1a" stroke-width="0.1" font-weight="normal" >-</text>
<text x="459.7" y="233.6" font-size="11.7" text-anchor="middle" fill="#1a1a1a" stroke="#1a1a1a" stroke-width="0.1" font-weight="normal" >+ BEZ</text>
<line x1="298.20" y1="330.50" x2="299.50" y2="330.50" stroke="#888" stroke-width="0.5" />
<line x1="298.20" y1="328.43" x2="299.50" y2="328.43" stroke="#888" stroke-width="0.5" />
<line x1="298.20" y1="326.35" x2="299.50" y2="326.35" stroke="#888" stroke-width="0.5" />
<line x1="298.20" y1="324.27" x2="299.50" y2="324.27" stroke="#888" stroke-width="0.5" />
<line x1="298.20" y1="322.20" x2="299.50" y2="322.20" stroke="#888" stroke-width="0.5" />
<line x1="298.20" y1="320.12" x2="299.50" y2="320.12" stroke="#888" stroke-width="0.5" />
<line x1="298.20" y1="318.05" x2="299.50" y2="318.05" stroke="#888" stroke-width="0.5" />
<line x1="298.20" y1="315.98" x2="299.50" y2="315.98" stroke="#888" stroke-width="0.5" />
<line x1="298.20" y1="313.90" x2="299.50" y2="313.90" stroke="#888" stroke-width="0.5" />
<line x1="298.20" y1="311.82" x2="299.50" y2="311.82" stroke="#888" stroke-width="0.5" />
<line x1="298.20" y1="309.75" x2="299.50" y2="309.75" stroke="#888" stroke-width="0.5" />
<line x1="298.20" y1="307.68" x2="299.50" y2="307.68" stroke="#888" stroke-width="0.5" />
<line x1="298.20" y1="305.60" x2="299.50" y2="305.60" stroke="#888" stroke-width="0.5" />
<line x1="298.20" y1="303.52" x2="299.50" y2="303.52" stroke="#888" stroke-width="0.5" />
<line x1="298.20" y1="301.45" x2="299.50" y2="301.45" stroke="#888" stroke-width="0.5" />
<line x1="298.20" y1="299.38" x2="299.50" y2="299.38" stroke="#888" stroke-width="0.5" />
<line x1="298.20" y1="297.30" x2="299.50" y2="297.30" stroke="#888" stroke-width="0.5" />
<line x1="298.20" y1="295.23" x2="299.50" y2="295.23" stroke="#888" stroke-width="0.5" />
<line x1="298.20" y1="293.15" x2="299.50" y2="293.15" stroke="#888" stroke-width="0.5" />
<line x1="298.20" y1="291.07" x2="299.50" y2="291.07" stroke="#888" stroke-width="0.5" />
<line x1="298.20" y1="289.00" x2="299.50" y2="289.00" stroke="#888" stroke-width="0.5" />
<line x1="298.20" y1="286.93" x2="299.50" y2="286.93" stroke="#888" stroke-width="0.5" />
<line x1="298.20" y1="284.85" x2="299.50" y2="284.85" stroke="#888" stroke-width="0.5" />
<line x1="298.20" y1="282.77" x2="299.50" y2="282.77" stroke="#888" stroke-width="0.5" />
<line x1="298.20" y1="280.70" x2="299.50" y2="280.70" stroke="#888" stroke-width="0.5" />
<line x1="298.20" y1="278.62" x2="299.50" y2="278.62" stroke="#888" stroke-width="0.5" />
<line x1="298.20" y1="276.55" x2="299.50" y2="276.55" stroke="#888" stroke-width="0.5" />
<line x1="298.20" y1="274.48" x2="299.50" y2="274.48" stroke="#888" stroke-width="0.5" />
<line x1="298.20" y1="272.40" x2="299.50" y2="272.40" stroke="#888" stroke-width="0.5" />
<line x1="298.20" y1="270.32" x2="299.50" y2="270.32" stroke="#888" stroke-width="0.5" />
<line x1="298.20" y1="268.25" x2="299.50" y2="268.25" stroke="#888" stroke-width="0.5" />
<line x1="298.20" y1="266.18" x2="299.50" y2="266.18" stroke="#888" stroke-width="0.5" />
<line x1="298.20" y1="264.10" x2="299.50" y2="264.10" stroke="#888" stroke-width="0.5" />
<line x1="298.20" y1="262.02" x2="299.50" y2="262.02" stroke="#888" stroke-width="0.5" />
<line x1="298.20" y1="259.95" x2="299.50" y2="259.95" stroke="#888" stroke-width="0.5" />
<line x1="298.20" y1="257.88" x2="299.50" y2="257.88" stroke="#888" stroke-width="0.5" />
<line x1="298.20" y1="255.80" x2="299.50" y2="255.80" stroke="#888" stroke-width="0.5" />
<line x1="298.20" y1="253.72" x2="299.50" y2="253.72" stroke="#888" stroke-width="0.5" />
<line x1="298.20" y1="251.65" x2="299.50" y2="251.65" stroke="#888" stroke-width="0.5" />
<line x1="298.20" y1="249.57" x2="299.50" y2="249.57" stroke="#888" stroke-width="0.5" />
<line x1="298.20" y1="247.50" x2="299.50" y2="247.50" stroke="#888" stroke-width="0.5" />
<line x1="299.50" y1="330.50" x2="299.50" y2="331.80" stroke="#888" stroke-width="0.5" />
<line x1="301.49" y1="330.50" x2="301.49" y2="331.80" stroke="#888" stroke-width="0.5" />
<line x1="303.48" y1="330.50" x2="303.48" y2="331.80" stroke="#888" stroke-width="0.5" />
<line x1="305.47" y1="330.50" x2="305.47" y2="331.80" stroke="#888" stroke-width="0.5" />
<line x1="307.46" y1="330.50" x2="307.46" y2="331.80" stroke="#888" stroke-width="0.5" />
<line x1="309.45" y1="330.50" x2="309.45" y2="331.80" stroke="#888" stroke-width="0.5" />
<line x1="311.44" y1="330.50" x2="311.44" y2="331.80" stroke="#888" stroke-width="0.5" />
<line x1="313.43" y1="330.50" x2="313.43" y2="331.80" stroke="#888" stroke-width="0.5" />
<line x1="315.42" y1="330.50" x2="315.42" y2="331.80" stroke="#888" stroke-width="0.5" />
<line x1="317.41" y1="330.50" x2="317.41" y2="331.80" stroke="#888" stroke-width="0.5" />
<line x1="319.40" y1="330.50" x2="319.40" y2="331.80" stroke="#888" stroke-width="0.5" />
<line x1="321.39" y1="330.50" x2="321.39" y2="331.80" stroke="#888" stroke-width="0.5" />
<line x1="323.38" y1="330.50" x2="323.38" y2="331.80" stroke="#888" stroke-width="0.5" />
<line x1="325.36" y1="330.50" x2="325.36" y2="331.80" stroke="#888" stroke-width="0.5" />
<line x1="327.35" y1="330.50" x2="327.35" y2="331.80" stroke="#888" stroke-width="0.5" />
<line x1="329.34" y1="330.50" x2="329.34" y2="331.80" stroke="#888" stroke-width="0.5" />
<line x1="331.33" y1="330.50" x2="331.33" y2="331.80" stroke="#888" stroke-width="0.5" />
<line x1="333.32" y1="330.50" x2="333.32" y2="331.80" stroke="#888" stroke-width="0.5" />
<line x1="335.31" y1="330.50" x2="335.31" y2="331.80" stroke="#888" stroke-width="0.5" />
<line x1="337.30" y1="330.50" x2="337.30" y2="331.80" stroke="#888" stroke-width="0.5" />
<line x1="339.29" y1="330.50" x2="339.29" y2="331.80" stroke="#888" stroke-width="0.5" />
<line x1="341.28" y1="330.50" x2="341.28" y2="331.80" stroke="#888" stroke-width="0.5" />
<line x1="343.27" y1="330.50" x2="343.27" y2="331.80" stroke="#888" stroke-width="0.5" />
<line x1="345.26" y1="330.50" x2="345.26" y2="331.80" stroke="#888" stroke-width="0.5" />
<line x1="347.25" y1="330.50" x2="347.25" y2="331.80" stroke="#888" stroke-width="0.5" />
<line x1="349.24" y1="330.50" x2="349.24" y2="331.80" stroke="#888" stroke-width="0.5" />
<line x1="351.23" y1="330.50" x2="351.23" y2="331.80" stroke="#888" stroke-width="0.5" />
<line x1="353.22" y1="330.50" x2="353.22" y2="331.80" stroke="#888" stroke-width="0.5" />
<line x1="355.21" y1="330.50" x2="355.21" y2="331.80" stroke="#888" stroke-width="0.5" />
<line x1="357.20" y1="330.50" x2="357.20" y2="331.80" stroke="#888" stroke-width="0.5" />
<line x1="359.19" y1="330.50" x2="359.19" y2="331.80" stroke="#888" stroke-width="0.5" />
<line x1="361.18" y1="330.50" x2="361.18" y2="331.80" stroke="#888" stroke-width="0.5" />
<line x1="363.17" y1="330.50" x2="363.17" y2="331.80" stroke="#888" stroke-width="0.5" />
<line x1="365.16" y1="330.50" x2="365.16" y2="331.80" stroke="#888" stroke-width="0.5" />
<line x1="367.15" y1="330.50" x2="367.15" y2="331.80" stroke="#888" stroke-width="0.5" />
<line x1="369.14" y1="330.50" x2="369.14" y2="331.80" stroke="#888" stroke-width="0.5" />
<line x1="371.12" y1="330.50" x2="371.12" y2="331.80" stroke="#888" stroke-width="0.5" />
<line x1="373.11" y1="330.50" x2="373.11" y2="331.80" stroke="#888" stroke-width="0.5" />
<line x1="375.10" y1="330.50" x2="375.10" y2="331.80" stroke="#888" stroke-width="0.5" />
<line x1="377.09" y1="330.50" x2="377.09" y2="331.80" stroke="#888" stroke-width="0.5" />
<line x1="379.08" y1="330.50" x2="379.08" y2="331.80" stroke="#888" stroke-width="0.5" />
<line x1="381.07" y1="330.50" x2="381.07" y2="331.80" stroke="#888" stroke-width="0.5" />
<line x1="383.06" y1="330.50" x2="383.06" y2="331.80" stroke="#888" stroke-width="0.5" />
<line x1="385.05" y1="330.50" x2="385.05" y2="331.80" stroke="#888" stroke-width="0.5" />
<line x1="387.04" y1="330.50" x2="387.04" y2="331.80" stroke="#888" stroke-width="0.5" />
<line x1="389.03" y1="330.50" x2="389.03" y2="331.80" stroke="#888" stroke-width="0.5" />
<line x1="391.02" y1="330.50" x2="391.02" y2="331.80" stroke="#888" stroke-width="0.5" />
<line x1="393.01" y1="330.50" x2="393.01" y2="331.80" stroke="#888" stroke-width="0.5" />
<line x1="395.00" y1="330.50" x2="395.00" y2="331.80" stroke="#888" stroke-width="0.5" />
<text x="299.5" y="336.1" font-size="3.4" text-anchor="middle" fill="#666" stroke="#666" stroke-width="0" font-weight="normal" >0</text>
<text x="315.4" y="336.1" font-size="3.4" text-anchor="middle" fill="#666" stroke="#666" stroke-width="0" font-weight="normal" >20</text>
<text x="331.3" y="336.1" font-size="3.4" text-anchor="middle" fill="#666" stroke="#666" stroke-width="0" font-weight="normal" >40</text>
<text x="347.2" y="336.1" font-size="3.4" text-anchor="middle" fill="#666" stroke="#666" stroke-width="0" font-weight="normal" >60</text>
<text x="363.2" y="336.1" font-size="3.4" text-anchor="middle" fill="#666" stroke="#666" stroke-width="0" font-weight="normal" >80</text>
<text x="379.1" y="336.1" font-size="3.4" text-anchor="middle" fill="#666" stroke="#666" stroke-width="0" font-weight="normal" >100</text>
<text x="395.0" y="336.1" font-size="3.4" text-anchor="middle" fill="#666" stroke="#666" stroke-width="0" font-weight="normal" >120</text>
<text transform="translate(296.5,315.4) rotate(-90)" font-size="3.4" text-anchor="middle" fill="#777">200</text>
<text transform="translate(296.5,300.3) rotate(-90)" font-size="3.4" text-anchor="middle" fill="#777">400</text>
<text transform="translate(296.5,285.2) rotate(-90)" font-size="3.4" text-anchor="middle" fill="#777">600</text>
<text transform="translate(296.5,270.1) rotate(-90)" font-size="3.4" text-anchor="middle" fill="#777">800</text>
<text transform="translate(296.5,255.0) rotate(-90)" font-size="3.4" text-anchor="middle" fill="#777">1000</text>
<text transform="translate(290.7,289.0) rotate(-90)" font-size="3.6" text-anchor="middle" fill="#777">Number</text>
<text x="349.2" y="339.4" font-size="3.4" text-anchor="middle" fill="#777" stroke="#777" stroke-width="0" font-weight="normal" >Channels (FL3-A FL3-Area)</text>
<path d="M325.90,330.50 L326.17,330.50 L326.43,330.50 L326.70,330.49 L326.97,330.49 L327.23,330.48 L327.50,330.46 L327.77,330.43 L328.03,330.37 L328.30,330.26 L328.57,330.10 L328.83,329.83 L329.10,329.41 L329.37,328.79 L329.63,327.86 L329.90,326.54 L330.17,324.72 L330.43,322.28 L330.70,319.11 L330.97,315.12 L331.23,310.26 L331.50,304.56 L331.77,298.12 L332.03,291.11 L332.30,283.82 L332.57,276.61 L332.83,269.89 L333.10,264.08 L333.37,259.60 L333.63,256.77 L333.90,255.80 L334.17,256.77 L334.43,259.60 L334.70,264.08 L334.97,269.89 L335.23,276.61 L335.50,283.82 L335.77,291.11 L336.03,298.12 L336.30,304.56 L336.57,310.26 L336.83,315.12 L337.10,319.11 L337.37,322.28 L337.63,324.72 L337.90,326.54 L338.17,327.86 L338.43,328.79 L338.70,329.41 L338.97,329.83 L339.23,330.10 L339.50,330.26 L339.77,330.37 L340.03,330.43 L340.30,330.46 L340.57,330.48 L340.83,330.49 L341.10,330.49 L341.37,330.50 L341.63,330.50 L341.90,330.50 Z" fill="url(#pk)"/>
<path d="M360.10,330.50 L360.37,330.50 L360.65,330.50 L360.92,330.49 L361.19,330.48 L361.47,330.47 L361.74,330.45 L362.01,330.42 L362.29,330.36 L362.56,330.29 L362.83,330.18 L363.11,330.03 L363.38,329.84 L363.65,329.61 L363.93,329.32 L364.20,328.99 L364.47,328.61 L364.75,328.21 L365.02,327.79 L365.29,327.37 L365.57,326.96 L365.84,326.57 L366.11,326.23 L366.39,325.93 L366.66,325.69 L366.93,325.50 L367.21,325.36 L367.48,325.27 L367.75,325.22 L368.03,325.20 L368.30,325.20 L368.57,325.20 L368.85,325.22 L369.12,325.27 L369.39,325.36 L369.67,325.50 L369.94,325.69 L370.21,325.93 L370.49,326.23 L370.76,326.57 L371.03,326.96 L371.31,327.37 L371.58,327.79 L371.85,328.21 L372.13,328.61 L372.40,328.99 L372.67,329.32 L372.95,329.61 L373.22,329.84 L373.49,330.03 L373.77,330.18 L374.04,330.29 L374.31,330.36 L374.59,330.42 L374.86,330.45 L375.13,330.47 L375.41,330.48 L375.68,330.49 L375.95,330.50 L376.23,330.50 L376.50,330.50 Z" fill="#e01010"/>
<path d="M333.90,255.80 L334.41,258.90 L334.92,267.45 L335.43,279.49 L335.94,292.58 L336.45,304.60 L336.95,314.25 L337.46,321.13 L337.97,325.54 L338.48,328.09 L338.99,329.32 L339.50,328.94 L340.01,328.65 L340.52,328.48 L341.03,328.39 L341.54,328.34 L342.05,328.32 L342.56,328.31 L343.06,328.30 L343.57,328.30 L344.08,328.30 L344.59,328.30 L345.10,328.30 L345.61,328.30 L346.12,328.30 L346.63,328.30 L347.14,328.30 L347.65,328.30 L348.16,328.30 L348.67,328.30 L349.17,328.30 L349.68,328.30 L350.19,328.30 L350.70,328.30 L351.21,328.30 L351.72,328.30 L352.23,328.30 L352.74,328.30 L353.25,328.30 L353.76,328.30 L354.27,328.30 L354.78,328.30 L355.28,328.30 L355.79,328.30 L356.30,328.30 L356.81,328.30 L357.32,328.30 L357.83,328.30 L358.34,328.30 L358.85,328.30 L359.36,328.30 L359.87,328.30 L360.38,328.30 L360.89,328.30 L361.39,328.30 L361.90,328.30 L362.41,328.30 L362.92,328.30 L363.43,328.30 L363.94,328.30 L364.45,327.48 L364.96,326.50 L365.47,325.55 L365.98,324.73 L366.49,324.10 L367.00,323.69 L367.50,323.47 L368.01,323.40 L368.52,323.40 L369.03,323.46 L369.54,323.65 L370.05,324.04 L370.56,324.64 L371.07,325.44 L371.58,326.38 L372.09,327.36 L372.60,328.28 L373.11,329.05 L373.62,329.64 L374.12,330.03 L374.63,330.21 L375.14,330.29 L375.65,330.36 L376.16,330.40 L376.67,330.44 L377.18,330.46 L377.69,330.47 L378.20,330.48 L378.71,330.49 L379.22,330.49 L379.73,330.49 L380.23,330.50 L380.74,330.50 L381.25,330.50 L381.76,330.50 L382.27,330.50 L382.78,330.50 L383.29,330.50 L383.80,330.50 L384.31,330.50 L384.82,330.50 L385.33,330.50 L385.83,330.50 L386.34,330.50 L386.85,330.50 L387.36,330.50 L387.87,330.50 L388.38,330.50 L388.89,330.50 L389.40,330.50 L389.91,330.50 L390.42,330.50 L390.93,330.50 L391.44,330.50 L391.94,330.50 L392.45,330.50 L392.96,330.50 L393.47,330.50 L393.98,330.50 L394.49,330.50 L395.00,330.50" fill="none" stroke="#6f8f90" stroke-width="0.6"/>
<path d="M299.50,329.90 L300.07,329.90 L300.65,329.90 L301.22,329.90 L301.79,329.90 L302.37,329.90 L302.94,329.90 L303.51,329.90 L304.09,329.90 L304.66,329.90 L305.23,329.90 L305.81,329.90 L306.38,329.90 L306.95,329.90 L307.53,329.90 L308.10,329.90 L308.67,329.90 L309.25,329.90 L309.82,329.90 L310.39,329.90 L310.97,329.90 L311.54,329.90 L312.11,329.90 L312.69,329.90 L313.26,329.90 L313.83,329.90 L314.41,329.90 L314.98,329.90 L315.55,329.90 L316.13,329.90 L316.70,329.90 L317.27,329.90 L317.85,329.90 L318.42,329.90 L318.99,329.90 L319.57,329.90 L320.14,329.90 L320.71,329.90 L321.29,329.90 L321.86,329.90 L322.43,329.90 L323.01,329.90 L323.58,329.90 L324.15,329.90 L324.73,329.90 L325.30,329.90 L325.87,329.90 L326.45,329.90 L327.02,329.90 L327.59,329.90 L328.17,329.90 L328.74,329.54 L329.31,328.10 L329.89,325.13 L330.46,319.70 L331.03,311.00 L331.61,298.88 L332.18,284.44 L332.75,270.25 L333.33,259.71 L333.90,255.80" fill="none" stroke="#888" stroke-width="0.5"/>
<line x1="299.50" y1="247.50" x2="299.50" y2="330.50" stroke="#555" stroke-width="0.8" />
<line x1="299.50" y1="330.50" x2="395.00" y2="330.50" stroke="#333" stroke-width="0.9" />
<path d="M332.2,333.1 L335.6,333.1 L333.9,329.9 Z" fill="#111"/>
<path d="M366.6,333.1 L370.0,333.1 L368.3,329.9 Z" fill="#111"/>
<line x1="413.20" y1="330.50" x2="414.50" y2="330.50" stroke="#888" stroke-width="0.5" />
<line x1="413.20" y1="328.43" x2="414.50" y2="328.43" stroke="#888" stroke-width="0.5" />
<line x1="413.20" y1="326.36" x2="414.50" y2="326.36" stroke="#888" stroke-width="0.5" />
<line x1="413.20" y1="324.29" x2="414.50" y2="324.29" stroke="#888" stroke-width="0.5" />
<line x1="413.20" y1="322.22" x2="414.50" y2="322.22" stroke="#888" stroke-width="0.5" />
<line x1="413.20" y1="320.15" x2="414.50" y2="320.15" stroke="#888" stroke-width="0.5" />
<line x1="413.20" y1="318.08" x2="414.50" y2="318.08" stroke="#888" stroke-width="0.5" />
<line x1="413.20" y1="316.01" x2="414.50" y2="316.01" stroke="#888" stroke-width="0.5" />
<line x1="413.20" y1="313.94" x2="414.50" y2="313.94" stroke="#888" stroke-width="0.5" />
<line x1="413.20" y1="311.87" x2="414.50" y2="311.87" stroke="#888" stroke-width="0.5" />
<line x1="413.20" y1="309.80" x2="414.50" y2="309.80" stroke="#888" stroke-width="0.5" />
<line x1="413.20" y1="307.73" x2="414.50" y2="307.73" stroke="#888" stroke-width="0.5" />
<line x1="413.20" y1="305.66" x2="414.50" y2="305.66" stroke="#888" stroke-width="0.5" />
<line x1="413.20" y1="303.59" x2="414.50" y2="303.59" stroke="#888" stroke-width="0.5" />
<line x1="413.20" y1="301.52" x2="414.50" y2="301.52" stroke="#888" stroke-width="0.5" />
<line x1="413.20" y1="299.45" x2="414.50" y2="299.45" stroke="#888" stroke-width="0.5" />
<line x1="413.20" y1="297.38" x2="414.50" y2="297.38" stroke="#888" stroke-width="0.5" />
<line x1="413.20" y1="295.31" x2="414.50" y2="295.31" stroke="#888" stroke-width="0.5" />
<line x1="413.20" y1="293.24" x2="414.50" y2="293.24" stroke="#888" stroke-width="0.5" />
<line x1="413.20" y1="291.17" x2="414.50" y2="291.17" stroke="#888" stroke-width="0.5" />
<line x1="413.20" y1="289.10" x2="414.50" y2="289.10" stroke="#888" stroke-width="0.5" />
<line x1="413.20" y1="287.03" x2="414.50" y2="287.03" stroke="#888" stroke-width="0.5" />
<line x1="413.20" y1="284.96" x2="414.50" y2="284.96" stroke="#888" stroke-width="0.5" />
<line x1="413.20" y1="282.89" x2="414.50" y2="282.89" stroke="#888" stroke-width="0.5" />
<line x1="413.20" y1="280.82" x2="414.50" y2="280.82" stroke="#888" stroke-width="0.5" />
<line x1="413.20" y1="278.75" x2="414.50" y2="278.75" stroke="#888" stroke-width="0.5" />
<line x1="413.20" y1="276.68" x2="414.50" y2="276.68" stroke="#888" stroke-width="0.5" />
<line x1="413.20" y1="274.61" x2="414.50" y2="274.61" stroke="#888" stroke-width="0.5" />
<line x1="413.20" y1="272.54" x2="414.50" y2="272.54" stroke="#888" stroke-width="0.5" />
<line x1="413.20" y1="270.47" x2="414.50" y2="270.47" stroke="#888" stroke-width="0.5" />
<line x1="413.20" y1="268.40" x2="414.50" y2="268.40" stroke="#888" stroke-width="0.5" />
<line x1="413.20" y1="266.33" x2="414.50" y2="266.33" stroke="#888" stroke-width="0.5" />
<line x1="413.20" y1="264.26" x2="414.50" y2="264.26" stroke="#888" stroke-width="0.5" />
<line x1="413.20" y1="262.19" x2="414.50" y2="262.19" stroke="#888" stroke-width="0.5" />
<line x1="413.20" y1="260.12" x2="414.50" y2="260.12" stroke="#888" stroke-width="0.5" />
<line x1="413.20" y1="258.05" x2="414.50" y2="258.05" stroke="#888" stroke-width="0.5" />
<line x1="413.20" y1="255.98" x2="414.50" y2="255.98" stroke="#888" stroke-width="0.5" />
<line x1="413.20" y1="253.91" x2="414.50" y2="253.91" stroke="#888" stroke-width="0.5" />
<line x1="413.20" y1="251.84" x2="414.50" y2="251.84" stroke="#888" stroke-width="0.5" />
<line x1="413.20" y1="249.77" x2="414.50" y2="249.77" stroke="#888" stroke-width="0.5" />
<line x1="413.20" y1="247.70" x2="414.50" y2="247.70" stroke="#888" stroke-width="0.5" />
<line x1="414.50" y1="330.50" x2="414.50" y2="331.80" stroke="#888" stroke-width="0.5" />
<line x1="416.51" y1="330.50" x2="416.51" y2="331.80" stroke="#888" stroke-width="0.5" />
<line x1="418.51" y1="330.50" x2="418.51" y2="331.80" stroke="#888" stroke-width="0.5" />
<line x1="420.52" y1="330.50" x2="420.52" y2="331.80" stroke="#888" stroke-width="0.5" />
<line x1="422.52" y1="330.50" x2="422.52" y2="331.80" stroke="#888" stroke-width="0.5" />
<line x1="424.53" y1="330.50" x2="424.53" y2="331.80" stroke="#888" stroke-width="0.5" />
<line x1="426.54" y1="330.50" x2="426.54" y2="331.80" stroke="#888" stroke-width="0.5" />
<line x1="428.54" y1="330.50" x2="428.54" y2="331.80" stroke="#888" stroke-width="0.5" />
<line x1="430.55" y1="330.50" x2="430.55" y2="331.80" stroke="#888" stroke-width="0.5" />
<line x1="432.56" y1="330.50" x2="432.56" y2="331.80" stroke="#888" stroke-width="0.5" />
<line x1="434.56" y1="330.50" x2="434.56" y2="331.80" stroke="#888" stroke-width="0.5" />
<line x1="436.57" y1="330.50" x2="436.57" y2="331.80" stroke="#888" stroke-width="0.5" />
<line x1="438.57" y1="330.50" x2="438.57" y2="331.80" stroke="#888" stroke-width="0.5" />
<line x1="440.58" y1="330.50" x2="440.58" y2="331.80" stroke="#888" stroke-width="0.5" />
<line x1="442.59" y1="330.50" x2="442.59" y2="331.80" stroke="#888" stroke-width="0.5" />
<line x1="444.59" y1="330.50" x2="444.59" y2="331.80" stroke="#888" stroke-width="0.5" />
<line x1="446.60" y1="330.50" x2="446.60" y2="331.80" stroke="#888" stroke-width="0.5" />
<line x1="448.61" y1="330.50" x2="448.61" y2="331.80" stroke="#888" stroke-width="0.5" />
<line x1="450.61" y1="330.50" x2="450.61" y2="331.80" stroke="#888" stroke-width="0.5" />
<line x1="452.62" y1="330.50" x2="452.62" y2="331.80" stroke="#888" stroke-width="0.5" />
<line x1="454.62" y1="330.50" x2="454.62" y2="331.80" stroke="#888" stroke-width="0.5" />
<line x1="456.63" y1="330.50" x2="456.63" y2="331.80" stroke="#888" stroke-width="0.5" />
<line x1="458.64" y1="330.50" x2="458.64" y2="331.80" stroke="#888" stroke-width="0.5" />
<line x1="460.64" y1="330.50" x2="460.64" y2="331.80" stroke="#888" stroke-width="0.5" />
<line x1="462.65" y1="330.50" x2="462.65" y2="331.80" stroke="#888" stroke-width="0.5" />
<line x1="464.66" y1="330.50" x2="464.66" y2="331.80" stroke="#888" stroke-width="0.5" />
<line x1="466.66" y1="330.50" x2="466.66" y2="331.80" stroke="#888" stroke-width="0.5" />
<line x1="468.67" y1="330.50" x2="468.67" y2="331.80" stroke="#888" stroke-width="0.5" />
<line x1="470.68" y1="330.50" x2="470.68" y2="331.80" stroke="#888" stroke-width="0.5" />
<line x1="472.68" y1="330.50" x2="472.68" y2="331.80" stroke="#888" stroke-width="0.5" />
<line x1="474.69" y1="330.50" x2="474.69" y2="331.80" stroke="#888" stroke-width="0.5" />
<line x1="476.69" y1="330.50" x2="476.69" y2="331.80" stroke="#888" stroke-width="0.5" />
<line x1="478.70" y1="330.50" x2="478.70" y2="331.80" stroke="#888" stroke-width="0.5" />
<line x1="480.71" y1="330.50" x2="480.71" y2="331.80" stroke="#888" stroke-width="0.5" />
<line x1="482.71" y1="330.50" x2="482.71" y2="331.80" stroke="#888" stroke-width="0.5" />
<line x1="484.72" y1="330.50" x2="484.72" y2="331.80" stroke="#888" stroke-width="0.5" />
<line x1="486.73" y1="330.50" x2="486.73" y2="331.80" stroke="#888" stroke-width="0.5" />
<line x1="488.73" y1="330.50" x2="488.73" y2="331.80" stroke="#888" stroke-width="0.5" />
<line x1="490.74" y1="330.50" x2="490.74" y2="331.80" stroke="#888" stroke-width="0.5" />
<line x1="492.74" y1="330.50" x2="492.74" y2="331.80" stroke="#888" stroke-width="0.5" />
<line x1="494.75" y1="330.50" x2="494.75" y2="331.80" stroke="#888" stroke-width="0.5" />
<line x1="496.76" y1="330.50" x2="496.76" y2="331.80" stroke="#888" stroke-width="0.5" />
<line x1="498.76" y1="330.50" x2="498.76" y2="331.80" stroke="#888" stroke-width="0.5" />
<line x1="500.77" y1="330.50" x2="500.77" y2="331.80" stroke="#888" stroke-width="0.5" />
<line x1="502.78" y1="330.50" x2="502.78" y2="331.80" stroke="#888" stroke-width="0.5" />
<line x1="504.78" y1="330.50" x2="504.78" y2="331.80" stroke="#888" stroke-width="0.5" />
<line x1="506.79" y1="330.50" x2="506.79" y2="331.80" stroke="#888" stroke-width="0.5" />
<line x1="508.79" y1="330.50" x2="508.79" y2="331.80" stroke="#888" stroke-width="0.5" />
<line x1="510.80" y1="330.50" x2="510.80" y2="331.80" stroke="#888" stroke-width="0.5" />
<text x="414.5" y="336.1" font-size="3.4" text-anchor="middle" fill="#666" stroke="#666" stroke-width="0" font-weight="normal" >0</text>
<text x="430.6" y="336.1" font-size="3.4" text-anchor="middle" fill="#666" stroke="#666" stroke-width="0" font-weight="normal" >20</text>
<text x="446.6" y="336.1" font-size="3.4" text-anchor="middle" fill="#666" stroke="#666" stroke-width="0" font-weight="normal" >40</text>
<text x="462.6" y="336.1" font-size="3.4" text-anchor="middle" fill="#666" stroke="#666" stroke-width="0" font-weight="normal" >60</text>
<text x="478.7" y="336.1" font-size="3.4" text-anchor="middle" fill="#666" stroke="#666" stroke-width="0" font-weight="normal" >80</text>
<text x="494.8" y="336.1" font-size="3.4" text-anchor="middle" fill="#666" stroke="#666" stroke-width="0" font-weight="normal" >100</text>
<text x="510.8" y="336.1" font-size="3.4" text-anchor="middle" fill="#666" stroke="#666" stroke-width="0" font-weight="normal" >120</text>
<text transform="translate(411.5,315.4) rotate(-90)" font-size="3.4" text-anchor="middle" fill="#777">200</text>
<text transform="translate(411.5,300.4) rotate(-90)" font-size="3.4" text-anchor="middle" fill="#777">400</text>
<text transform="translate(411.5,285.3) rotate(-90)" font-size="3.4" text-anchor="middle" fill="#777">600</text>
<text transform="translate(411.5,270.3) rotate(-90)" font-size="3.4" text-anchor="middle" fill="#777">800</text>
<text transform="translate(411.5,255.2) rotate(-90)" font-size="3.4" text-anchor="middle" fill="#777">1000</text>
<text transform="translate(405.7,289.1) rotate(-90)" font-size="3.6" text-anchor="middle" fill="#777">Number</text>
<text x="464.6" y="339.4" font-size="3.4" text-anchor="middle" fill="#777" stroke="#777" stroke-width="0" font-weight="normal" >Channels (FL3-A FL3-Area)</text>
<path d="M438.20,330.50 L438.47,330.50 L438.73,330.50 L439.00,330.49 L439.27,330.49 L439.53,330.48 L439.80,330.46 L440.07,330.43 L440.33,330.37 L440.60,330.26 L440.87,330.10 L441.13,329.83 L441.40,329.41 L441.67,328.79 L441.93,327.86 L442.20,326.54 L442.47,324.72 L442.73,322.28 L443.00,319.11 L443.27,315.12 L443.53,310.26 L443.80,304.56 L444.07,298.12 L444.33,291.11 L444.60,283.82 L444.87,276.61 L445.13,269.89 L445.40,264.08 L445.67,259.60 L445.93,256.77 L446.20,255.80 L446.47,256.77 L446.73,259.60 L447.00,264.08 L447.27,269.89 L447.53,276.61 L447.80,283.82 L448.07,291.11 L448.33,298.12 L448.60,304.56 L448.87,310.26 L449.13,315.12 L449.40,319.11 L449.67,322.28 L449.93,324.72 L450.20,326.54 L450.47,327.86 L450.73,328.79 L451.00,329.41 L451.27,329.83 L451.53,330.10 L451.80,330.26 L452.07,330.37 L452.33,330.43 L452.60,330.46 L452.87,330.48 L453.13,330.49 L453.40,330.49 L453.67,330.50 L453.93,330.50 L454.20,330.50 Z" fill="url(#pk)"/>
<path d="M467.00,330.50 L467.32,330.50 L467.63,330.49 L467.95,330.49 L468.27,330.48 L468.58,330.47 L468.90,330.45 L469.22,330.42 L469.53,330.37 L469.85,330.31 L470.17,330.23 L470.48,330.12 L470.80,329.98 L471.12,329.82 L471.43,329.63 L471.75,329.41 L472.07,329.18 L472.38,328.93 L472.70,328.68 L473.02,328.43 L473.33,328.19 L473.65,327.97 L473.97,327.77 L474.28,327.61 L474.60,327.47 L474.92,327.36 L475.23,327.29 L475.55,327.24 L475.87,327.21 L476.18,327.20 L476.50,327.20 L476.82,327.20 L477.13,327.21 L477.45,327.24 L477.77,327.29 L478.08,327.36 L478.40,327.47 L478.72,327.61 L479.03,327.77 L479.35,327.97 L479.67,328.19 L479.98,328.43 L480.30,328.68 L480.62,328.93 L480.93,329.18 L481.25,329.41 L481.57,329.63 L481.88,329.82 L482.20,329.98 L482.52,330.12 L482.83,330.23 L483.15,330.31 L483.47,330.37 L483.78,330.42 L484.10,330.45 L484.42,330.47 L484.73,330.48 L485.05,330.49 L485.37,330.49 L485.68,330.50 L486.00,330.50 Z" fill="#8a3a3a"/>
<path d="M446.20,255.80 L446.74,259.26 L447.28,268.69 L447.81,281.73 L448.35,295.49 L448.89,307.64 L449.43,316.93 L449.97,323.17 L450.51,326.90 L451.05,328.89 L451.58,329.35 L452.12,329.06 L452.66,328.88 L453.20,328.79 L453.74,328.74 L454.27,328.72 L454.81,328.71 L455.35,328.70 L455.89,328.70 L456.43,328.70 L456.97,328.70 L457.50,328.70 L458.04,328.70 L458.58,328.70 L459.12,328.70 L459.66,328.70 L460.20,328.70 L460.74,328.70 L461.27,328.70 L461.81,328.70 L462.35,328.70 L462.89,328.70 L463.43,328.70 L463.96,328.70 L464.50,328.70 L465.04,328.70 L465.58,328.70 L466.12,328.70 L466.66,328.70 L467.19,328.70 L467.73,328.70 L468.27,328.70 L468.81,328.70 L469.35,328.70 L469.89,328.70 L470.43,328.70 L470.96,328.70 L471.50,328.70 L472.04,328.67 L472.58,328.20 L473.12,327.75 L473.65,327.35 L474.19,327.04 L474.73,326.82 L475.27,326.68 L475.81,326.62 L476.35,326.60 L476.88,326.60 L477.42,326.64 L477.96,326.73 L478.50,326.90 L479.04,327.16 L479.58,327.52 L480.12,327.94 L480.65,328.40 L481.19,328.87 L481.73,329.30 L482.27,329.68 L482.81,329.97 L483.35,330.18 L483.88,330.33 L484.42,330.41 L484.96,330.45 L485.50,330.47 L486.04,330.48 L486.57,330.49 L487.11,330.49 L487.65,330.49 L488.19,330.50 L488.73,330.50 L489.27,330.50 L489.81,330.50 L490.34,330.50 L490.88,330.50 L491.42,330.50 L491.96,330.50 L492.50,330.50 L493.04,330.50 L493.57,330.50 L494.11,330.50 L494.65,330.50 L495.19,330.50 L495.73,330.50 L496.26,330.50 L496.80,330.50 L497.34,330.50 L497.88,330.50 L498.42,330.50 L498.96,330.50 L499.50,330.50 L500.03,330.50 L500.57,330.50 L501.11,330.50 L501.65,330.50 L502.19,330.50 L502.73,330.50 L503.26,330.50 L503.80,330.50 L504.34,330.50 L504.88,330.50 L505.42,330.50 L505.95,330.50 L506.49,330.50 L507.03,330.50 L507.57,330.50 L508.11,330.50 L508.65,330.50 L509.19,330.50 L509.72,330.50 L510.26,330.50 L510.80,330.50" fill="none" stroke="#6f8f90" stroke-width="0.6"/>
<path d="M414.50,329.90 L415.03,329.90 L415.56,329.90 L416.08,329.90 L416.61,329.90 L417.14,329.90 L417.67,329.90 L418.20,329.90 L418.73,329.90 L419.25,329.90 L419.78,329.90 L420.31,329.90 L420.84,329.90 L421.37,329.90 L421.90,329.90 L422.43,329.90 L422.95,329.90 L423.48,329.90 L424.01,329.90 L424.54,329.90 L425.07,329.90 L425.59,329.90 L426.12,329.90 L426.65,329.90 L427.18,329.90 L427.71,329.90 L428.24,329.90 L428.76,329.90 L429.29,329.90 L429.82,329.90 L430.35,329.90 L430.88,329.90 L431.41,329.90 L431.94,329.90 L432.46,329.90 L432.99,329.90 L433.52,329.90 L434.05,329.90 L434.58,329.90 L435.11,329.90 L435.63,329.90 L436.16,329.90 L436.69,329.90 L437.22,329.90 L437.75,329.90 L438.27,329.90 L438.80,329.90 L439.33,329.90 L439.86,329.90 L440.39,329.90 L440.92,329.72 L441.44,328.65 L441.97,326.47 L442.50,322.51 L443.03,316.05 L443.56,306.62 L444.09,294.50 L444.62,280.96 L445.14,268.26 L445.67,259.13 L446.20,255.80" fill="none" stroke="#888" stroke-width="0.5"/>
<line x1="414.50" y1="247.70" x2="414.50" y2="330.50" stroke="#555" stroke-width="0.8" />
<line x1="414.50" y1="330.50" x2="510.80" y2="330.50" stroke="#333" stroke-width="0.9" />
<path d="M444.5,333.1 L447.9,333.1 L446.2,329.9 Z" fill="#111"/>
<text x="296.5" y="360.5" font-size="11.2" text-anchor="end" fill="#1a1a1a" stroke="#1a1a1a" stroke-width="0.1" font-weight="normal" >G0/G1:</text>
<text x="296.5" y="376.0" font-size="11.2" text-anchor="end" fill="#1a1a1a" stroke="#1a1a1a" stroke-width="0.1" font-weight="normal" >S:</text>
<text x="296.5" y="391.7" font-size="11.2" text-anchor="end" fill="#1a1a1a" stroke="#1a1a1a" stroke-width="0.1" font-weight="normal" >G2/M:</text>
<text x="343.4" y="360.5" font-size="11.2" text-anchor="middle" fill="#1a1a1a" stroke="#1a1a1a" stroke-width="0.1" font-weight="normal" >67%</text>
<text x="343.4" y="376.0" font-size="11.2" text-anchor="middle" fill="#1a1a1a" stroke="#1a1a1a" stroke-width="0.1" font-weight="normal" >23%</text>
<text x="343.4" y="391.7" font-size="11.2" text-anchor="middle" fill="#1a1a1a" stroke="#1a1a1a" stroke-width="0.1" font-weight="normal" >10%</text>
<text x="458.2" y="360.5" font-size="11.2" text-anchor="middle" fill="#1a1a1a" stroke="#1a1a1a" stroke-width="0.1" font-weight="normal" >83%</text>
<text x="458.2" y="376.0" font-size="11.2" text-anchor="middle" fill="#1a1a1a" stroke="#1a1a1a" stroke-width="0.1" font-weight="normal" >12%</text>
<text x="458.2" y="391.7" font-size="11.2" text-anchor="middle" fill="#1a1a1a" stroke="#1a1a1a" stroke-width="0.1" font-weight="normal" >5%</text>
<text x="30.6" y="468.4" font-size="12.2" text-anchor="start" fill="#1a1a1a" stroke="#1a1a1a" stroke-width="0.1" font-weight="bold" >E</text>
<line x1="61.50" y1="483.80" x2="61.50" y2="591.80" stroke="#333" stroke-width="1" />
<line x1="61.80" y1="591.50" x2="237.60" y2="591.50" stroke="#333" stroke-width="1" />
<line x1="61.8" y1="484.2" x2="237.1" y2="484.2" stroke="#222" stroke-width="1.2" stroke-dasharray="2.4,1.6"/>
<line x1="59.30" y1="570.50" x2="61.80" y2="570.50" stroke="#333" stroke-width="1" />
<text x="56.2" y="574.7" font-size="11.1" text-anchor="end" fill="#1a1a1a" stroke="#1a1a1a" stroke-width="0.1" font-weight="normal" >0.2</text>
<line x1="96.50" y1="591.80" x2="96.50" y2="594.80" stroke="#333" stroke-width="1" />
<text x="96.9" y="606.4" font-size="10.8" text-anchor="middle" fill="#1a1a1a" stroke="#1a1a1a" stroke-width="0.1" font-weight="normal" >0.2</text>
<line x1="59.30" y1="548.50" x2="61.80" y2="548.50" stroke="#333" stroke-width="1" />
<text x="56.2" y="553.2" font-size="11.1" text-anchor="end" fill="#1a1a1a" stroke="#1a1a1a" stroke-width="0.1" font-weight="normal" >0.4</text>
<line x1="131.50" y1="591.80" x2="131.50" y2="594.80" stroke="#333" stroke-width="1" />
<text x="131.9" y="606.4" font-size="10.8" text-anchor="middle" fill="#1a1a1a" stroke="#1a1a1a" stroke-width="0.1" font-weight="normal" >0.4</text>
<line x1="59.30" y1="527.50" x2="61.80" y2="527.50" stroke="#333" stroke-width="1" />
<text x="56.2" y="531.6" font-size="11.1" text-anchor="end" fill="#1a1a1a" stroke="#1a1a1a" stroke-width="0.1" font-weight="normal" >0.6</text>
<line x1="166.50" y1="591.80" x2="166.50" y2="594.80" stroke="#333" stroke-width="1" />
<text x="167.0" y="606.4" font-size="10.8" text-anchor="middle" fill="#1a1a1a" stroke="#1a1a1a" stroke-width="0.1" font-weight="normal" >0.6</text>
<line x1="59.30" y1="505.50" x2="61.80" y2="505.50" stroke="#333" stroke-width="1" />
<text x="56.2" y="510.1" font-size="11.1" text-anchor="end" fill="#1a1a1a" stroke="#1a1a1a" stroke-width="0.1" font-weight="normal" >0.8</text>
<line x1="202.50" y1="591.80" x2="202.50" y2="594.80" stroke="#333" stroke-width="1" />
<text x="202.0" y="606.4" font-size="10.8" text-anchor="middle" fill="#1a1a1a" stroke="#1a1a1a" stroke-width="0.1" font-weight="normal" >0.8</text>
<line x1="59.30" y1="484.50" x2="61.80" y2="484.50" stroke="#333" stroke-width="1" />
<text x="56.2" y="488.6" font-size="11.1" text-anchor="end" fill="#1a1a1a" stroke="#1a1a1a" stroke-width="0.1" font-weight="normal" >1.0</text>
<line x1="237.50" y1="591.80" x2="237.50" y2="594.80" stroke="#333" stroke-width="1" />
<text x="237.1" y="606.4" font-size="10.8" text-anchor="middle" fill="#1a1a1a" stroke="#1a1a1a" stroke-width="0.1" font-weight="normal" >1.0</text>
<text x="155.6" y="622.8" font-size="10.8" text-anchor="middle" fill="#1a1a1a" stroke="#1a1a1a" stroke-width="0.1" font-weight="normal" >Fractional Effect</text>
<text x="206.5" y="472.0" font-size="10.8" text-anchor="middle" fill="#1a1a1a" stroke="#1a1a1a" stroke-width="0.1" font-weight="normal" >OBX + BEZ</text>
<text transform="translate(33.5,529.4) rotate(-90)" font-size="10.8" text-anchor="middle" fill="#1c1c1c" stroke="#1c1c1c" stroke-width="0.1">Combination Index</text>
<path d="M124.5,535.5 L129.9,540.9 M124.5,540.9 L129.9,535.5" stroke="#d63a2a" stroke-width="1.0" fill="none"/>
<path d="M127.0,545.9 L132.4,551.3 M127.0,551.3 L132.4,545.9" stroke="#d63a2a" stroke-width="1.0" fill="none"/>
<path d="M136.3,550.6 L141.7,556.0 M136.3,556.0 L141.7,550.6" stroke="#d63a2a" stroke-width="1.0" fill="none"/>
<path d="M141.2,571.4 L146.6,576.8 M141.2,576.8 L146.6,571.4" stroke="#d63a2a" stroke-width="1.0" fill="none"/>
<path d="M148.0,571.4 L153.4,576.8 M148.0,576.8 L153.4,571.4" stroke="#d63a2a" stroke-width="1.0" fill="none"/>
<path d="M154.7,569.7 L160.1,575.1 M154.7,575.1 L160.1,569.7" stroke="#d63a2a" stroke-width="1.0" fill="none"/>
<path d="M152.8,573.4 L158.2,578.8 M152.8,578.8 L158.2,573.4" stroke="#d63a2a" stroke-width="1.0" fill="none"/>
<path d="M153.7,575.5 L159.1,580.9 M153.7,580.9 L159.1,575.5" stroke="#d63a2a" stroke-width="1.0" fill="none"/>
<path d="M160.5,578.2 L165.9,583.6 M160.5,583.6 L165.9,578.2" stroke="#d63a2a" stroke-width="1.0" fill="none"/>
<path d="M163.6,577.8 L169.0,583.2 M163.6,583.2 L169.0,577.8" stroke="#d63a2a" stroke-width="1.0" fill="none"/>
<path d="M162.7,579.9 L168.1,585.3 M162.7,585.3 L168.1,579.9" stroke="#d63a2a" stroke-width="1.0" fill="none"/>
<path d="M165.9,581.5 L171.3,586.9 M165.9,586.9 L171.3,581.5" stroke="#d63a2a" stroke-width="1.0" fill="none"/>
<line x1="311.50" y1="486.00" x2="311.50" y2="593.10" stroke="#333" stroke-width="1" />
<line x1="311.50" y1="593.50" x2="487.20" y2="593.50" stroke="#333" stroke-width="1" />
<line x1="311.5" y1="486.2" x2="486.7" y2="486.2" stroke="#222" stroke-width="1.2" stroke-dasharray="2.4,1.6"/>
<line x1="309.00" y1="571.50" x2="311.50" y2="571.50" stroke="#333" stroke-width="1" />
<text x="305.9" y="576.1" font-size="11.1" text-anchor="end" fill="#1a1a1a" stroke="#1a1a1a" stroke-width="0.1" font-weight="normal" >0.2</text>
<line x1="346.50" y1="593.10" x2="346.50" y2="596.10" stroke="#333" stroke-width="1" />
<text x="346.5" y="607.7" font-size="10.8" text-anchor="middle" fill="#1a1a1a" stroke="#1a1a1a" stroke-width="0.1" font-weight="normal" >0.2</text>
<line x1="309.00" y1="550.50" x2="311.50" y2="550.50" stroke="#333" stroke-width="1" />
<text x="305.9" y="554.7" font-size="11.1" text-anchor="end" fill="#1a1a1a" stroke="#1a1a1a" stroke-width="0.1" font-weight="normal" >0.4</text>
<line x1="381.50" y1="593.10" x2="381.50" y2="596.10" stroke="#333" stroke-width="1" />
<text x="381.6" y="607.7" font-size="10.8" text-anchor="middle" fill="#1a1a1a" stroke="#1a1a1a" stroke-width="0.1" font-weight="normal" >0.4</text>
<line x1="309.00" y1="528.50" x2="311.50" y2="528.50" stroke="#333" stroke-width="1" />
<text x="305.9" y="533.4" font-size="11.1" text-anchor="end" fill="#1a1a1a" stroke="#1a1a1a" stroke-width="0.1" font-weight="normal" >0.6</text>
<line x1="416.50" y1="593.10" x2="416.50" y2="596.10" stroke="#333" stroke-width="1" />
<text x="416.6" y="607.7" font-size="10.8" text-anchor="middle" fill="#1a1a1a" stroke="#1a1a1a" stroke-width="0.1" font-weight="normal" >0.6</text>
<line x1="309.00" y1="507.50" x2="311.50" y2="507.50" stroke="#333" stroke-width="1" />
<text x="305.9" y="512.0" font-size="11.1" text-anchor="end" fill="#1a1a1a" stroke="#1a1a1a" stroke-width="0.1" font-weight="normal" >0.8</text>
<line x1="451.50" y1="593.10" x2="451.50" y2="596.10" stroke="#333" stroke-width="1" />
<text x="451.7" y="607.7" font-size="10.8" text-anchor="middle" fill="#1a1a1a" stroke="#1a1a1a" stroke-width="0.1" font-weight="normal" >0.8</text>
<line x1="309.00" y1="486.50" x2="311.50" y2="486.50" stroke="#333" stroke-width="1" />
<text x="305.9" y="490.6" font-size="11.1" text-anchor="end" fill="#1a1a1a" stroke="#1a1a1a" stroke-width="0.1" font-weight="normal" >1.0</text>
<line x1="486.50" y1="593.10" x2="486.50" y2="596.10" stroke="#333" stroke-width="1" />
<text x="486.7" y="607.7" font-size="10.8" text-anchor="middle" fill="#1a1a1a" stroke="#1a1a1a" stroke-width="0.1" font-weight="normal" >1.0</text>
<text x="405.2" y="624.1" font-size="10.8" text-anchor="middle" fill="#1a1a1a" stroke="#1a1a1a" stroke-width="0.1" font-weight="normal" >Fractional Effect</text>
<text x="457.3" y="476.3" font-size="10.8" text-anchor="middle" fill="#1a1a1a" stroke="#1a1a1a" stroke-width="0.1" font-weight="normal" >UO + BEZ</text>
<text transform="translate(283.0,531.1) rotate(-90)" font-size="10.8" text-anchor="middle" fill="#1c1c1c" stroke="#1c1c1c" stroke-width="0.1">Combination Index</text>
<path d="M340.4,535.6 L345.8,541.0 M340.4,541.0 L345.8,535.6" stroke="#d63a2a" stroke-width="1.0" fill="none"/>
<path d="M351.7,539.9 L357.1,545.3 M351.7,545.3 L357.1,539.9" stroke="#d63a2a" stroke-width="1.0" fill="none"/>
<path d="M353.1,544.1 L358.5,549.5 M353.1,549.5 L358.5,544.1" stroke="#d63a2a" stroke-width="1.0" fill="none"/>
<path d="M349.4,564.4 L354.8,569.8 M349.4,569.8 L354.8,564.4" stroke="#d63a2a" stroke-width="1.0" fill="none"/>
<path d="M363.0,517.9 L368.4,523.3 M363.0,523.3 L368.4,517.9" stroke="#d63a2a" stroke-width="1.0" fill="none"/>
<path d="M363.0,533.4 L368.4,538.8 M363.0,538.8 L368.4,533.4" stroke="#d63a2a" stroke-width="1.0" fill="none"/>
<path d="M364.4,535.6 L369.8,541.0 M364.4,541.0 L369.8,535.6" stroke="#d63a2a" stroke-width="1.0" fill="none"/>
<path d="M368.3,535.6 L373.7,541.0 M368.3,541.0 L373.7,535.6" stroke="#d63a2a" stroke-width="1.0" fill="none"/>
<path d="M380.5,530.6 L385.9,536.0 M380.5,536.0 L385.9,530.6" stroke="#d63a2a" stroke-width="1.0" fill="none"/>
<path d="M392.6,537.1 L398.0,542.5 M392.6,542.5 L398.0,537.1" stroke="#d63a2a" stroke-width="1.0" fill="none"/>
<path d="M376.2,572.3 L381.6,577.7 M376.2,577.7 L381.6,572.3" stroke="#d63a2a" stroke-width="1.0" fill="none"/>
<path d="M385.6,572.3 L391.0,577.7 M385.6,577.7 L391.0,572.3" stroke="#d63a2a" stroke-width="1.0" fill="none"/>
</svg></body></html>
